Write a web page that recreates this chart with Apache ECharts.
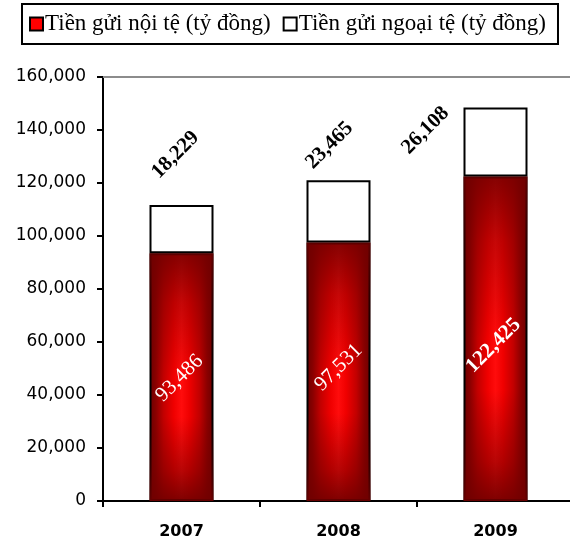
<!DOCTYPE html>
<html>
<head>
<meta charset="utf-8">
<script src="https://cdn.jsdelivr.net/npm/echarts@6/dist/echarts.min.js"></script>
<style>
html,body{margin:0;padding:0;background:#fff;}
#chart{width:570px;height:545px;}
</style>
</head>
<body>
<div id="chart"></div>
<script>
// ---- data ----
const categories = ['2007', '2008', '2009'];
const seriesNames = ['Tiền gửi nội tệ (tỷ đồng)', 'Tiền gửi ngoại tệ (tỷ đồng)'];
const domesticValues = [93486, 97531, 122425];
const foreignValues = [18229, 23465, 26108];
const yTicks = [0, 20000, 40000, 60000, 80000, 100000, 120000, 140000, 160000];

// ---- label styling (positions relative to each bar's rectangle) ----
const foreignLabelPos = [[26, -50], [23, -35], [-38, 23]];
const domesticLabelPos = [[30, 125], [32, 125], [30, 169]];
const domesticLabelWeight = ['normal', 'normal', 'bold'];

const fmt = v => v.toLocaleString('en-US');
const serif = '"Liberation Serif", "Times New Roman", serif';
const sans = '"DejaVu Sans", sans-serif';

const chart = echarts.init(document.getElementById('chart'), null, {renderer: 'canvas'});

const barW = 64;

const option = {
  animation: false,
  backgroundColor: '#fff',
  legend: {
    data: [
      {name: seriesNames[0], icon: 'rect', itemStyle: {color: '#ff0000', borderColor: '#000', borderWidth: 2}},
      {name: seriesNames[1], icon: 'rect', itemStyle: {color: '#ffffff', borderColor: '#000', borderWidth: 2}}
    ],
    left: 22,
    top: 4,
    itemWidth: 13,
    itemHeight: 13,
    itemGap: 12,
    padding: [8, 12, 8, 7],
    borderColor: '#000',
    borderWidth: 2,
    textStyle: {fontFamily: serif, fontSize: 23, color: '#000', lineHeight: 24, padding: [0, 0, 0, -3]}
  },
  grid: {left: 103, width: 471, top: 77, bottom: 44, containLabel: false, outerBoundsMode: 'none'},
  xAxis: [
    {
      type: 'category',
      data: categories,
      axisLine: {lineStyle: {color: '#000', width: 2}},
      axisTick: {show: true, length: 6, lineStyle: {color: '#000', width: 2}},
      axisLabel: {fontFamily: sans, fontSize: 16, fontWeight: 'bold', color: '#000', margin: 23}
    },
    {
      type: 'category',
      data: categories,
      position: 'top',
      axisLine: {lineStyle: {color: '#8c8c8c', width: 2}},
      axisTick: {show: false},
      axisLabel: {show: false}
    }
  ],
  yAxis: {
    type: 'value',
    min: yTicks[0],
    max: yTicks[yTicks.length - 1],
    interval: yTicks[1] - yTicks[0],
    axisLine: {show: true, lineStyle: {color: '#000', width: 2}},
    axisTick: {show: true, length: 6, lineStyle: {color: '#000', width: 2}},
    splitLine: {show: false},
    axisLabel: {fontFamily: sans, fontSize: 17, color: '#000', margin: 17, formatter: v => fmt(v)}
  },
  series: [
    {
      name: seriesNames[0],
      type: 'bar',
      stack: 'total',
      barWidth: barW,
      data: domesticValues,
      itemStyle: {
        borderColor: '#000',
        borderWidth: 2,
        color: {
          type: 'linear', x: 0, y: 0, x2: 1, y2: 0,
          colorStops: [
            {offset: 0, color: '#6a0000'},
            {offset: 0.1, color: '#8a0000'},
            {offset: 0.22, color: '#c20000'},
            {offset: 0.38, color: '#f00000'},
            {offset: 0.5, color: '#ff0c0c'},
            {offset: 0.62, color: '#f00000'},
            {offset: 0.78, color: '#c20000'},
            {offset: 0.9, color: '#8a0000'},
            {offset: 1, color: '#6a0000'}
          ]
        }
      },
      label: {show: false}
    },
    {
      name: seriesNames[1],
      type: 'bar',
      stack: 'total',
      barWidth: barW,
      data: foreignValues.map((v, i) => ({
        value: v,
        label: {position: foreignLabelPos[i]}
      })),
      itemStyle: {color: '#ffffff', borderColor: '#000', borderWidth: 2},
      label: {
        show: true,
        rotate: 45,
        align: 'center',
        verticalAlign: 'middle',
        fontFamily: serif,
        fontSize: 21,
        fontWeight: 'bold',
        color: '#000',
        formatter: p => fmt(p.value)
      }
    },
    {
      // shading overlay on the domestic bars (same values) for the centre-glow look
      name: 'shade',
      type: 'bar',
      barWidth: barW,
      barGap: '-100%',
      silent: true,
      data: domesticValues.map((v, i) => ({
        value: v,
        label: {position: domesticLabelPos[i], fontWeight: domesticLabelWeight[i]}
      })),
      itemStyle: {
        color: {
          type: 'linear', x: 0, y: 0, x2: 0, y2: 1,
          colorStops: [
            {offset: 0, color: 'rgba(112,0,0,0.85)'},
            {offset: 0.2, color: 'rgba(112,0,0,0.4)'},
            {offset: 0.5, color: 'rgba(112,0,0,0)'},
            {offset: 0.66, color: 'rgba(112,0,0,0)'},
            {offset: 0.88, color: 'rgba(112,0,0,0.5)'},
            {offset: 1, color: 'rgba(112,0,0,0.9)'}
          ]
        }
      },
      label: {
        show: true,
        rotate: 45,
        align: 'center',
        verticalAlign: 'middle',
        fontFamily: serif,
        fontSize: 21,
        color: '#fff',
        formatter: p => fmt(p.value)
      }
    }
  ]
};

chart.setOption(option);
</script>
</body>
</html>
